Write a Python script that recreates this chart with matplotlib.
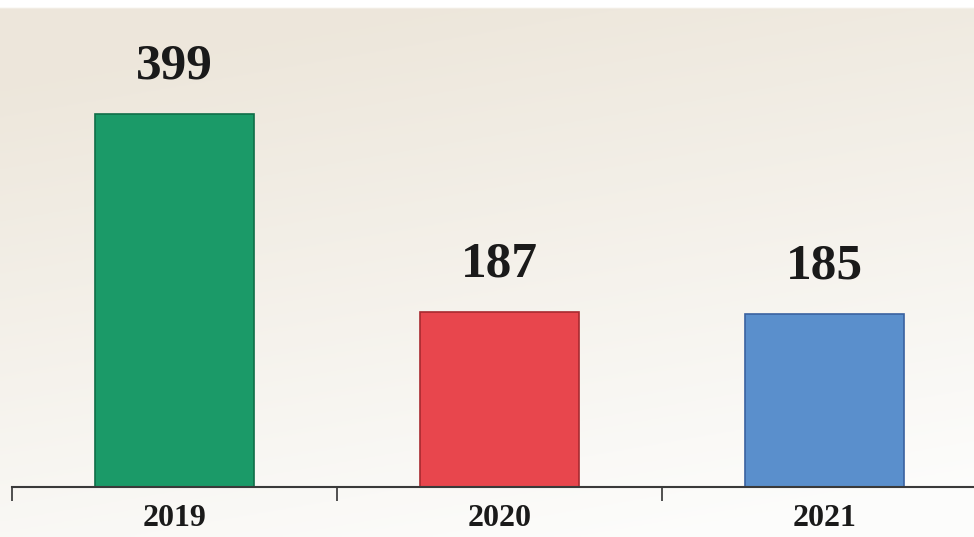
import matplotlib.pyplot as plt
import numpy as np

# Data
years = ['2019', '2020', '2021']
counts = [399, 187, 185]
colors = ['#1b9a68', '#e8464d', '#5a8fcc']
edges = ['#0f6e48', '#a82a30', '#3a62a0']

fig = plt.figure(figsize=(9.74, 5.37), dpi=100)

# scanned paper look: beige top-left fading to white
bg = fig.add_axes([0, 0, 1, 1], zorder=-10)
gy, gx = np.mgrid[0:1:200j, 0:1:200j]
shade = np.clip(1.15 - 0.95 * gy - 0.3 * gx, 0, 1)
c0 = np.array([0.99, 0.99, 0.985])
c1 = np.array([0.93, 0.905, 0.86])
img = c0 + (c1 - c0) * shade[..., None]
img[:3] = 1.0
bg.imshow(img, aspect='auto', extent=[0, 1, 0, 1], origin='upper')
bg.axis('off')

ax = fig.add_axes([12 / 974, 50 / 537, 975 / 974, 487 / 537])
ax.patch.set_alpha(0)

x = np.arange(len(years))
bars = ax.bar(x, counts, width=0.49, color=colors, edgecolor=edges, linewidth=1.2)

for xi, v in zip(x, counts):
    ax.annotate(str(v), (xi, v), xytext=(0, 18), textcoords='offset points',
                ha='center', va='bottom', fontsize=37, fontweight='bold',
                family='Liberation Serif', color='#1a1a1a')

ax.set_xlim(-0.5, 2.5)
ax.set_ylim(0, 521)

# ticks at category boundaries, labels at centres
ax.set_xticks([-0.5, 0.5, 1.5, 2.5])
ax.set_xticklabels([])
ax.set_xticks(x, minor=True)
ax.set_xticklabels(years, minor=True)
ax.tick_params(axis='x', which='major', length=10, width=1.2, color='#333333', direction='out')
ax.tick_params(axis='x', which='minor', length=0, pad=12)
for lab in ax.get_xticklabels(minor=True):
    lab.set_fontsize(23)
    lab.set_fontweight('bold')
    lab.set_family('Liberation Serif')
    lab.set_color('#1a1a1a')

ax.set_yticks([])
for s in ['top', 'right', 'left']:
    ax.spines[s].set_visible(False)
ax.spines['bottom'].set_color('#3a3a3a')
ax.spines['bottom'].set_linewidth(1.5)

plt.savefig('out.png', dpi=100)
